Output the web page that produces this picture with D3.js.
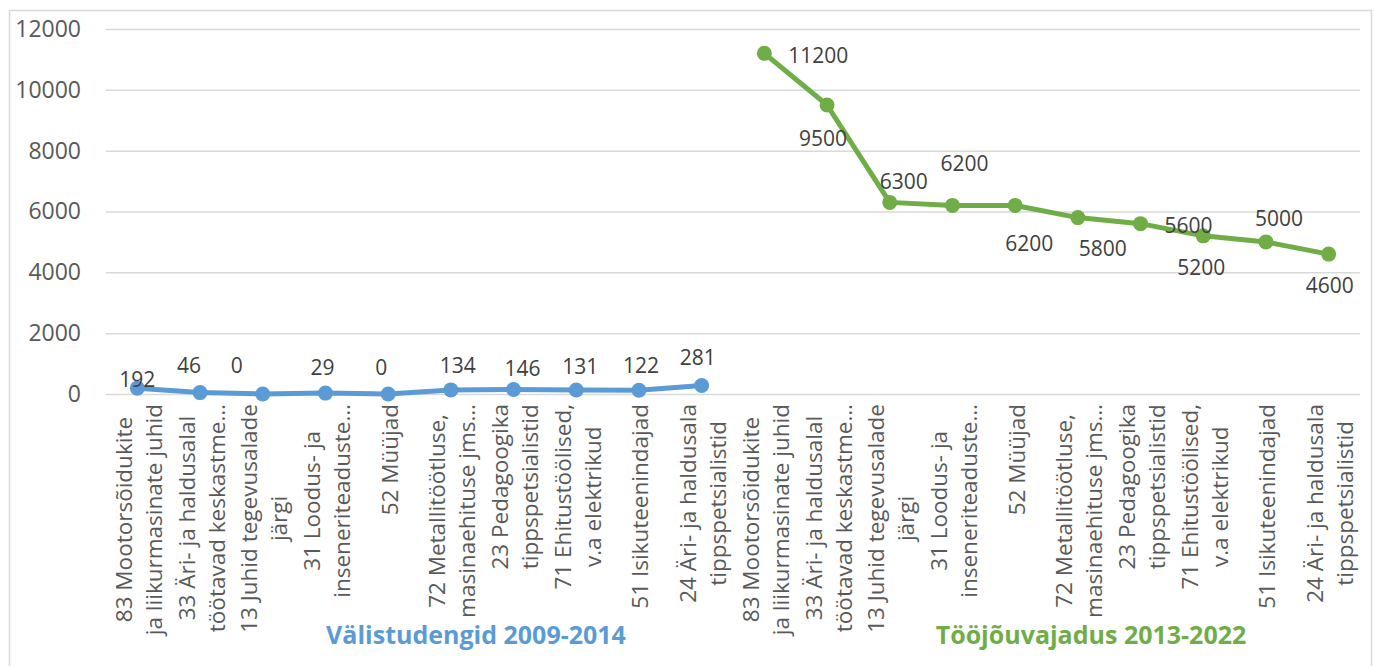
<!DOCTYPE html>
<html>
<head>
<meta charset="utf-8">
<script src="https://cdn.jsdelivr.net/npm/d3@7"></script>
<style>
  body { margin: 0; background: #fff; }
  svg text { font-family: "Open Sans", sans-serif; }
</style>
</head>
<body>
<svg id="chart" width="1374" height="666"></svg>
<script>
// categories (two lines each, as wrapped on the axis)
const categories = [
    ["83 Mootorsõidukite", "ja liikurmasinate juhid"],
    ["33 Äri- ja haldusalal", "töötavad keskastme…"],
    ["13 Juhid tegevusalade", "järgi"],
    ["31 Loodus- ja", "inseneriteaduste…"],
    ["52 Müüjad"],
    ["72 Metallitöötluse,", "masinaehituse jms…"],
    ["23 Pedagoogika", "tippspetsialistid"],
    ["71 Ehitustöölised,", "v.a elektrikud"],
    ["51 Isikuteenindajad"],
    ["24 Äri- ja haldusala", "tippspetsialistid"]
];
const students = [192, 46, 0, 29, 0, 134, 146, 131, 122, 281];
const demand = [11200, 9500, 6300, 6200, 6200, 5800, 5600, 5200, 5000, 4600];
const yTicks = [0, 2000, 4000, 6000, 8000, 10000, 12000];
const groupTitles = ["Välistudengid 2009-2014", "Tööjõuvajadus 2013-2022"];

// data label placement (dx, dy from the marker), like in the original
const studentLabelPos = [[0, -9], [-11, -28], [-26, -29], [-3, -26], [-7, -27],
    [7, -25], [9, -22], [4, -24], [2, -25], [-4, -28]];
const demandLabelPos = [[54, 2], [-4, 33], [14, -21], [12, -42], [14, 38],
    [25, 30], [48, 1], [-2, 31], [13, -24], [1, 31]];

const blue = '#5B9BD5';
const green = '#70AD47';
const textColor = '#595959';

const svg = d3.select('#chart');

// outer border
svg.append('rect')
    .attr('x', 9.5).attr('y', 10.5)
    .attr('width', 1362).attr('height', 700)
    .attr('fill', 'none')
    .attr('stroke', '#D9D9D9')
    .attr('stroke-width', 1.5);

const slots = d3.range(categories.length * 2);
const x = d3.scaleBand().domain(slots).range([106, 1360]);
const y = d3.scaleLinear().domain([0, 12000]).range([394, 29]);

// gridlines
svg.append('g')
    .attr('transform', 'translate(106,0)')
    .call(d3.axisLeft(y).tickValues(yTicks).tickSize(-(1360 - 106)).tickFormat(''))
    .call(g => g.select('.domain').remove())
    .call(g => g.selectAll('line').attr('stroke', '#D9D9D9').attr('stroke-width', 1.5));

// y axis labels
svg.append('g')
    .attr('transform', 'translate(106,0)')
    .call(d3.axisLeft(y).tickValues(yTicks).tickSize(0).tickPadding(25).tickFormat(d3.format('d')))
    .call(g => g.select('.domain').remove())
    .call(g => g.selectAll('text')
        .attr('fill', textColor)
        .style('font-size', '23px')
        .style('font-family', '"Open Sans", sans-serif'));

// category labels, rotated
const catLabels = categories.concat(categories);
const labelTop = 404;
slots.forEach(i => {
    const lines = catLabels[i];
    const xc = x(i) + x.bandwidth() / 2;
    const g = svg.append('g').attr('transform', `translate(${xc},${labelTop}) rotate(-90)`);
    const texts = lines.map((line, j) => g.append('text')
        .attr('text-anchor', 'middle')
        .attr('dominant-baseline', 'central')
        .attr('y', lines.length === 1 ? 1 : (j === 0 ? -14 : 16))
        .attr('fill', textColor)
        .style('font-size', '22.5px')
        .text(line));
    const maxLen = d3.max(texts, t => t.node().getComputedTextLength());
    texts.forEach(t => t.attr('x', -maxLen / 2));
});

// series
function drawSeries(values, offset, color, labelPos) {
    const pts = values.map((v, i) => ({ v, i: i + offset, pos: labelPos[i] }));
    const line = d3.line()
        .x(d => x(d.i) + x.bandwidth() / 2)
        .y(d => y(d.v));
    svg.append('path')
        .datum(pts)
        .attr('d', line)
        .attr('fill', 'none')
        .attr('stroke', color)
        .attr('stroke-width', 5)
        .attr('stroke-linejoin', 'round');
    svg.append('g').selectAll('circle')
        .data(pts)
        .enter()
        .append('circle')
        .attr('cx', d => x(d.i) + x.bandwidth() / 2)
        .attr('cy', d => y(d.v))
        .attr('r', 7.5)
        .attr('fill', color);
    svg.append('g').selectAll('text')
        .data(pts)
        .enter()
        .append('text')
        .attr('x', d => x(d.i) + x.bandwidth() / 2 + d.pos[0])
        .attr('y', d => y(d.v) + d.pos[1])
        .attr('text-anchor', 'middle')
        .attr('dominant-baseline', 'central')
        .attr('fill', '#404040')
        .style('font-size', '21px')
        .text(d => d.v);
}

drawSeries(students, 0, blue, studentLabelPos);
drawSeries(demand, categories.length, green, demandLabelPos);

// group titles
svg.append('text')
    .attr('x', 476).attr('y', 634)
    .attr('text-anchor', 'middle')
    .attr('dominant-baseline', 'central')
    .attr('fill', blue)
    .style('font-size', '25px')
    .style('font-weight', 'bold')
    .text(groupTitles[0]);
svg.append('text')
    .attr('x', 1091).attr('y', 634)
    .attr('text-anchor', 'middle')
    .attr('dominant-baseline', 'central')
    .attr('fill', green)
    .style('font-size', '25px')
    .style('font-weight', 'bold')
    .text(groupTitles[1]);
</script>
</body>
</html>
